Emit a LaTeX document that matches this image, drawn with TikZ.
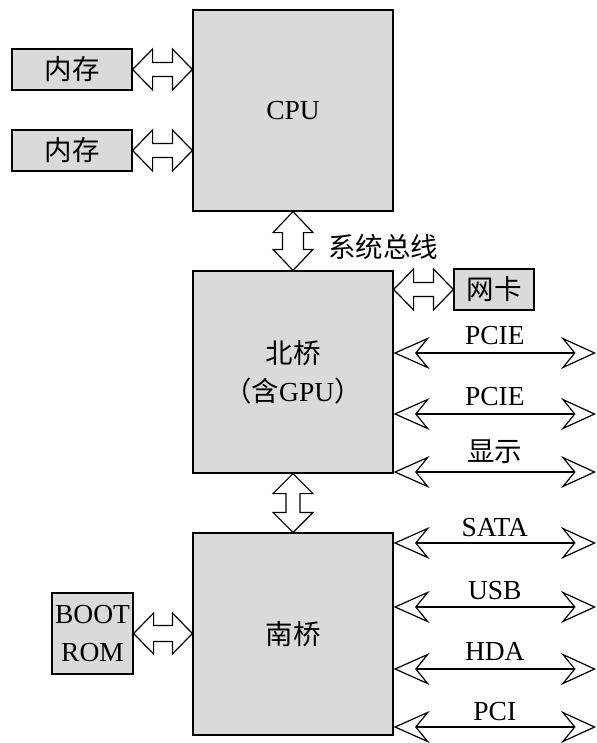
\documentclass[tikz,border=0pt]{standalone}
\usepackage{fontspec}
\setmainfont{Liberation Serif}
\newfontfamily\cjk{Noto Sans CJK SC}
\usetikzlibrary{calc,arrows.meta}
\definecolor{boxgray}{RGB}{218,218,218}
\newcommand\bigfont{\fontsize{27.5bp}{38bp}\selectfont}
% fat double arrow: #1 from, #2 to, #3 head length, #4 head half width, #5 shaft half width
\newcommand\fatarrow[5]{%
  \path[fat] (#1)
    -- ($($(#1)!#3!(#2)$)!#4!90:(#2)$)
    -- ($($(#1)!#3!(#2)$)!#5!90:(#2)$)
    -- ($($(#2)!#3!(#1)$)!#5!-90:(#1)$)
    -- ($($(#2)!#3!(#1)$)!#4!-90:(#1)$)
    -- (#2)
    -- ($($(#2)!#3!(#1)$)!#4!90:(#1)$)
    -- ($($(#2)!#3!(#1)$)!#5!90:(#1)$)
    -- ($($(#1)!#3!(#2)$)!#5!-90:(#2)$)
    -- ($($(#1)!#3!(#2)$)!#4!-90:(#2)$)
    -- cycle;}
\begin{document}
\begin{tikzpicture}[x=1bp,y=-1bp,
  box/.style={draw=black, line width=1.2bp, fill=boxgray, inner sep=0pt, font=\bigfont, align=center},
  fat/.style={draw=black, line width=1.2bp, fill=white, line join=miter},
  bus/.style={draw=black, line width=1.2bp,
    {Stealth[open,length=36bp,width=32bp,inset=13bp]}-{Stealth[open,length=35bp,width=32bp,inset=13bp]}},
  lbl/.style={font=\bigfont, anchor=base, inner sep=0pt}]
\useasboundingbox (0,0) rectangle (597,743);

% main boxes
\node[box, minimum width=200bp, minimum height=201bp] (cpu) at (293,110.5) {CPU};
\node[box, minimum width=200bp, minimum height=202bp] (nb) at (293,372) {{\cjk 北桥}\\{\cjk （含}GPU{\cjk ）}};
\node[box, minimum width=200bp, minimum height=202bp] (sb) at (293,634) {\cjk 南桥};

% side boxes
\node[box, minimum width=120bp, minimum height=41bp] (mem1) at (72,69.5) {\cjk 内存};
\node[box, minimum width=120bp, minimum height=41bp] (mem2) at (72,150.5) {\cjk 内存};
\node[box, minimum width=80bp, minimum height=41bp] (nic) at (494,289.5) {\cjk 网卡};
\node[box, minimum width=81bp, minimum height=81bp] (boot) at (92.5,633.5) {BOOT\\ROM};

% fat arrows
\coordinate (m1c) at (cpu.west |- mem1.east);
\coordinate (m2c) at (cpu.west |- mem2.east);
\coordinate (nicc) at (nb.east |- nic.west);
\coordinate (bootc) at (sb.west |- boot.east);
\fatarrow{mem1.east}{m1c}{20bp}{20.5bp}{7bp}
\fatarrow{mem2.east}{m2c}{20bp}{20.5bp}{7bp}
\fatarrow{cpu.south}{nb.north}{21bp}{20bp}{10.5bp}
\fatarrow{nicc}{nic.west}{20bp}{20.5bp}{7bp}
\fatarrow{nb.south}{sb.north}{20bp}{20bp}{7bp}
\fatarrow{boot.east}{bootc}{20bp}{20.5bp}{8bp}

\node[font=\bigfont\cjk, anchor=west, inner sep=0pt] (sysbus) at (328,247) {系统总线};

% buses
\coordinate (r1) at (596,353);
\coordinate (r2) at (596,414);
\coordinate (r3) at (596,472);
\coordinate (r4) at (596,543);
\coordinate (r5) at (596,607);
\coordinate (r6) at (596,669);
\coordinate (r7) at (596,727);
\coordinate (l1) at (nb.east |- r1);
\coordinate (l2) at (nb.east |- r2);
\coordinate (l3) at (nb.east |- r3);
\coordinate (l4) at (sb.east |- r4);
\coordinate (l5) at (sb.east |- r5);
\coordinate (l6) at (sb.east |- r6);
\coordinate (l7) at (sb.east |- r7);
\draw[bus] (l1) -- (r1) node[lbl, pos=0.5, yshift=9bp] {PCIE};
\draw[bus] (l2) -- (r2) node[lbl, pos=0.5, yshift=9bp] {PCIE};
\draw[bus] (l3) -- (r3) node[lbl, pos=0.5, yshift=11bp] {\cjk 显示};
\draw[bus] (l4) -- (r4) node[lbl, pos=0.5, yshift=7bp] {SATA};
\draw[bus] (l5) -- (r5) node[lbl, pos=0.5, yshift=8bp] {USB};
\draw[bus] (l6) -- (r6) node[lbl, pos=0.5, yshift=9bp] {HDA};
\draw[bus] (l7) -- (r7) node[lbl, pos=0.5, yshift=7bp] {PCI};
\end{tikzpicture}
\end{document}
